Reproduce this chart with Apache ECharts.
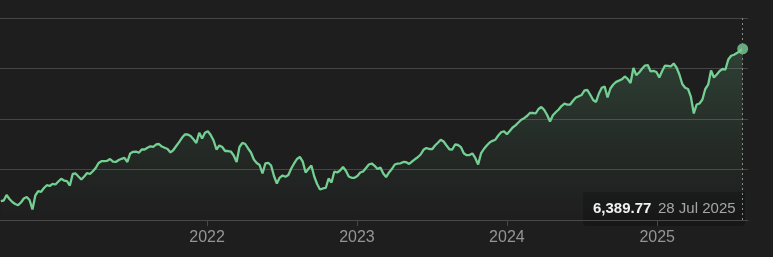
<!DOCTYPE html>
<html>
<head>
<meta charset="utf-8">
<script src="https://cdn.jsdelivr.net/npm/echarts@6/dist/echarts.min.js"></script>
<style>
  html, body { margin: 0; padding: 0; background: #1e1e1e; }
  #chart { width: 773px; height: 257px; }
</style>
</head>
<body>
<div id="chart"></div>
<script>
// Weekly closes (weeks starting on Mondays)
const firstWeek = '2020-08-17';
const closes2020 = [3376,3386,3495,3416,3356,3317,3293,3347,3426,3455,3396,3208,3485,3570,3558,3634,3689,3673,3717,3703];
const closes2021 = [3762,3816,3782,3772,3683,3911,3921,3861,3802,3861,3931,3911,3966,4030,4129,4164,4164,4172,4208,4158,4149,4188,4212,4232,4149,4317,4350,4356,4331,4396,4396,4430,4459,4446,4495,4505,4455,4430,4406,4337,4386,4465,4541,4628,4693,4693,4663,4600,4525,4727,4614,4727];
const closes2022 = [4758,4683,4574,4396,4475,4446,4366,4366,4356,4277,4149,4446,4529,4505,4416,4337,4198,4129,4089,3921,4119,4133,4079,3871,3723,3840,3881,3855,3891,4020,4119,4208,4248,4158,3941,4014,4079,3861,3713,3604,3624,3634,3822,3743,3960,3941,3980,4050,3974,3861,3836,3836];
const closes2023 = [3871,3941,3960,4030,4099,4119,4073,4010,4040,3921,3851,3941,4010,4099,4115,4123,4149,4145,4109,4158,4202,4242,4297,4390,4426,4406,4402,4475,4529,4588,4554,4475,4400,4396,4495,4485,4444,4323,4283,4285,4317,4228,4099,4317,4406,4475,4535,4568,4590,4673,4737,4758];
const closes2024 = [4697,4762,4832,4875,4931,4986,5016,5059,5119,5123,5109,5198,5238,5178,5079,4950,5073,5133,5188,5257,5303,5283,5287,5362,5426,5449,5475,5568,5574,5479,5376,5337,5505,5618,5644,5426,5604,5683,5735,5760,5786,5842,5794,5713,6010,5871,5921,5996,6059,6069,5941,5954,5931];
const closes2025 = [5822,5952,6059,6053,6040,6099,6020,5881,5693,5618,5594,5436,5109,5287,5307,5386,5594,5679,5960,5822,5881,5950,5990,5980,6178,6253,6273,6305,6347,6389.77];
const yearTicks = ['2022-01-01','2023-01-01','2024-01-01','2025-01-01'];
const yTicks = [3000,4000,5000,6000,7000];
const xRange = ['2020-08-15','2025-08-10'];

function parseUTC(s){ const p = s.split('-').map(Number); return Date.UTC(p[0], p[1]-1, p[2]); }
const closes = [].concat(closes2020, closes2021, closes2022, closes2023, closes2024, closes2025);
const weekTimes = [];
(function(){
  const p = firstWeek.split('-').map(Number);
  for (let i = 0; i < closes.length; i++) weekTimes.push(Date.UTC(p[0], p[1]-1, p[2] + 7*i));
})();
const seriesData = weekTimes.map((t, i) => [t, closes[i]]);
const lastTime = weekTimes[weekTimes.length - 1];
const lastValue = closes[closes.length - 1];
const months = ['Jan','Feb','Mar','Apr','May','Jun','Jul','Aug','Sep','Oct','Nov','Dec'];
const ld = new Date(lastTime);
const lastDateText = ld.getUTCDate() + ' ' + months[ld.getUTCMonth()] + ' ' + ld.getUTCFullYear();
const lastValueText = lastValue.toLocaleString('en-US', {minimumFractionDigits: 2, maximumFractionDigits: 2});

const FONT = "'Liberation Sans', Arial, Helvetica, sans-serif";
const GREEN = '#74cf92';
const chart = echarts.init(document.getElementById('chart'), null, {renderer: 'canvas'});
const tickTimes = yearTicks.map(parseUTC);

chart.setOption({
  backgroundColor: '#1e1e1e',
  animation: false,
  grid: { left: 0, right: 25, top: 18, bottom: 37, containLabel: false },
  xAxis: {
    type: 'value',
    min: parseUTC(xRange[0]),
    max: parseUTC(xRange[1]),
    axisLine: { show: true, lineStyle: { color: '#484848', width: 1 } },
    axisTick: { show: true, length: 6, customValues: tickTimes, lineStyle: { color: '#484848' } },
    axisLabel: {
      customValues: tickTimes,
      formatter: v => String(new Date(v).getUTCFullYear()),
      color: '#959595', fontSize: 16, fontFamily: FONT, margin: 10
    },
    splitLine: { show: false }
  },
  yAxis: {
    type: 'value',
    min: yTicks[0],
    max: yTicks[yTicks.length-1],
    interval: 1000,
    axisLine: { show: false },
    axisTick: { show: false },
    axisLabel: { show: false },
    splitLine: { show: true, lineStyle: { color: '#454545', width: 1 } }
  },
  series: [
    {
      type: 'line',
      data: seriesData,
      showSymbol: false,
      symbol: 'none',
      lineStyle: { color: GREEN, width: 2.3 },
      itemStyle: { color: GREEN },
      areaStyle: {
        color: new echarts.graphic.LinearGradient(0, 0, 0, 1, [
          { offset: 0, color: 'rgba(116,207,146,0.28)' },
          { offset: 0.6, color: 'rgba(116,207,146,0.09)' },
          { offset: 1, color: 'rgba(116,207,146,0.0)' }
        ])
      },
      markLine: {
        silent: true,
        symbol: 'none',
        label: { show: false },
        lineStyle: { color: '#8a8a8a', type: [2, 3], width: 1 },
        data: [{ xAxis: lastTime }]
      },
      z: 2
    },
    {
      type: 'scatter',
      data: [[lastTime, lastValue]],
      symbolSize: 11,
      itemStyle: { color: GREEN },
      z: 3
    }
  ],
  graphic: [
    {
      type: 'group',
      left: 583,
      top: 192,
      z: 100,
      children: [
        { type: 'rect', shape: { x: 0, y: 0, width: 162, height: 34, r: 3 }, style: { fill: '#171717' } },
        { type: 'text', x: 10, y: 17, style: { text: lastValueText, fill: '#f2f2f2', font: 'bold 15px ' + FONT, verticalAlign: 'middle' } },
        { type: 'text', x: 75, y: 17, style: { text: lastDateText, fill: '#a6a6a6', font: '15px ' + FONT, verticalAlign: 'middle' } }
      ]
    }
  ]
});
</script>
</body>
</html>
